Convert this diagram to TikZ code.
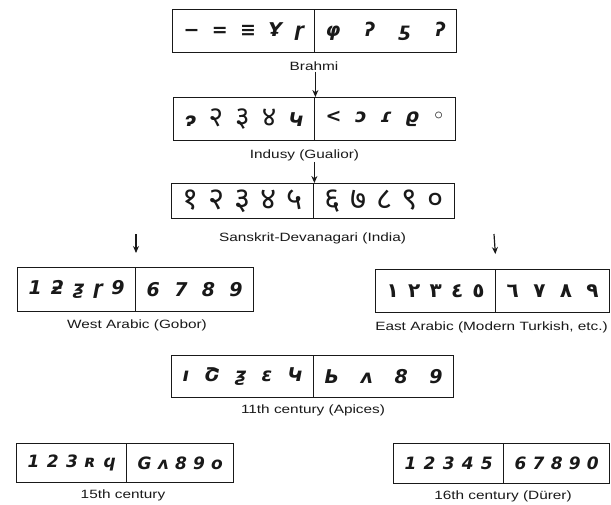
\documentclass[tikz,border=0pt]{standalone}
\usepackage{fontspec}
\setmainfont{Liberation Sans}[FakeStretch=1.28]
\newfontfamily\gly{DejaVu Sans}
\newfontfamily\dev[Script=Devanagari]{Noto Sans}
\newfontfamily\arab[Script=Arabic]{DejaVu Sans}
\usetikzlibrary{arrows.meta}
\newcommand\gs{\hfill}
\newcommand\dv[1]{{\dev\upshape\fontsize{28}{28}\selectfont #1}}
\newcommand\numbox[9][]{%
 \pgfmathsetmacro\wl{#4-#3}%
 \pgfmathsetmacro\wr{#5-#4}%
 \pgfmathsetmacro\hh{#7-#6}%
 \node[half,#1,minimum width=\wl pt,minimum height=\hh pt] (#2l) at (#3,#6) {\makebox[\dimexpr\wl pt-22pt\relax][s]{#8}};
 \node[half,#1,minimum width=\wr pt,minimum height=\hh pt] (#2r) at (#4,#6) {\makebox[\dimexpr\wr pt-22pt\relax][s]{#9}};
}
\tikzset{
 half/.style={draw=black!90, line width=1.4pt, inner sep=0pt, anchor=north west, text=black!90,
   font=\gly\bfseries\itshape\fontsize{19}{19}\selectfont},
 lbl/.style={font=\fontsize{12}{12}\selectfont, inner sep=1pt, text=black!90},
 arr/.style={draw=black!90, line width=1.2pt, -{Stealth[length=7pt,width=6pt]}},
}
\begin{document}
\begin{tikzpicture}[x=1pt,y=-1pt]
\useasboundingbox[fill=white] (0,0) rectangle (611,504);
% Brahmi
\numbox{b1}{172}{314}{456}{9}{52}{−\gs =\gs ≡\gs Ұ\gs ɼ}{φ\gs ʔ\gs ƽ\gs ʔ}
\node[lbl] (lb1) at (314,66) {Brahmi};
% Gualior
\numbox{b2}{173}{314}{455}{97}{140}{ɂ\gs \dv{२}\gs \dv{३}\gs \dv{४}\gs Կ}{<\gs ɔ\gs ɾ\gs ϱ\gs ◦}
\node[lbl] (lb2) at (304.5,155) {Indusy (Gualior)};
% Sanskrit
\numbox[font=\dev\bfseries\fontsize{31}{31}\selectfont]{b3}{171}{313}{454}{183}{218}{१\gs २\gs ३\gs ४\gs ५}{६\gs ७\gs ८\gs ९\gs ०}
\node[lbl] (lb3) at (312.5,238) {Sanskrit-Devanagari (India)};
% West Arabic
\numbox{b4}{17}{135}{253}{267}{311}{1\gs ƻ\gs ƺ\gs ɼ\gs 9}{6\gs 7\gs 8\gs 9}
\node[lbl] (lb4) at (137,325) {West Arabic (Gobor)};
% East Arabic
\numbox[font=\arab\bfseries\fontsize{20}{20}\selectfont]{b5}{375}{495}{609}{269}{312}{١\gs ٢\gs ٣\gs ٤\gs ٥}{٦\gs ٧\gs ٨\gs ٩}
\node[lbl] (lb5) at (491.5,327) {East Arabic (Modern Turkish, etc.)};
% Apices
\numbox{b6}{171}{313}{453}{355}{397}{ı\gs Շ\gs ƺ\gs ɛ\gs Կ}{Ь\gs ʌ\gs 8\gs 9}
\node[lbl] (lb6) at (313,410) {11th century (Apices)};
% 15th
\numbox[font=\gly\bfseries\itshape\fontsize{17}{17}\selectfont]{b7}{16}{126}{233}{443}{482}{1\gs 2\gs 3\gs ʀ\gs ϥ}{G\gs ʌ\gs 8\gs 9\gs o}
\node[lbl] (lb7) at (123,495) {15th century};
% 16th
\numbox[font=\gly\bfseries\itshape\fontsize{17}{17}\selectfont]{b8}{393}{503}{609}{443}{483}{1\gs 2\gs 3\gs 4\gs 5}{6\gs 7\gs 8\gs 9\gs 0}
\node[lbl] (lb8) at (503,496) {16th century (Dürer)};
% arrows
\draw[arr] (lb1.south -| b2l.north east) -- (b2l.north east);
\draw[arr] (lb2.south -| b3l.north east) -- (b3l.north east);
\coordinate (wa) at (136,234);
\coordinate (ea) at (494,234);
\draw[arr, shorten >=14pt] (wa) -- (wa |- b4l.north);
\draw[arr, shorten >=15pt] (ea) -- (b5l.north east);
\end{tikzpicture}
\end{document}
